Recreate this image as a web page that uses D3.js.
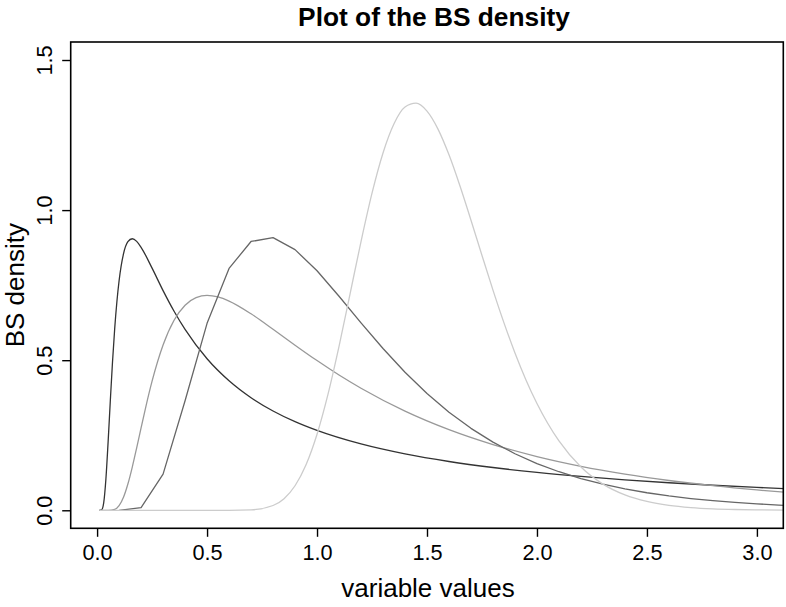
<!DOCTYPE html>
<html>
<head>
<meta charset="utf-8">
<script src="https://cdn.jsdelivr.net/npm/d3@7"></script>
<style>
  body { margin: 0; background: #fff; }
  svg { display: block; font-family: "Liberation Sans", Arial, Helvetica, sans-serif; }
  .tick text { fill: #000; }
</style>
</head>
<body>
<div id="chart"></div>
<script>
// x ticks / y ticks
const xTicks = [0, 0.5, 1.0, 1.5, 2.0, 2.5, 3.0];
const yTicks = [0, 0.5, 1.0, 1.5];

// curve 1 (darkest)
const xBlack = [0.01, 0.02, 0.03, 0.04, 0.05, 0.06, 0.07, 0.08, 0.09, 0.10, 0.12, 0.14, 0.16, 0.18, 0.20,
  0.25, 0.3, 0.35, 0.4, 0.5, 0.6, 0.7, 0.8, 0.9, 1.0, 1.2, 1.4, 1.6, 1.8, 2.0, 2.2, 2.4, 2.6, 2.8, 3.0, 3.2];
const yBlack = [0, 0.0011, 0.0248, 0.1033, 0.2262, 0.3635, 0.4934, 0.6048, 0.6947, 0.7646, 0.8540, 0.8947, 0.9046, 0.8958, 0.8762,
  0.8066, 0.7318, 0.6630, 0.6025, 0.5048, 0.4315, 0.3751, 0.3308, 0.2952, 0.2660, 0.2209, 0.1878, 0.1625, 0.1425, 0.1262, 0.1128, 0.1014, 0.0917, 0.0834, 0.0761, 0.0697];

// curve 2 (mid grey, smooth)
const xMid = [0.01, 0.05, 0.08, 0.10, 0.12, 0.14, 0.16, 0.18, 0.20, 0.22, 0.25, 0.3, 0.35, 0.4, 0.45, 0.5, 0.55, 0.6,
  0.7, 0.8, 0.9, 1.0, 1.1, 1.2, 1.4, 1.6, 1.8, 2.0, 2.2, 2.4, 2.6, 2.8, 3.0, 3.2];
const yMid = [0, 0, 0.0031, 0.0155, 0.0434, 0.0875, 0.1441, 0.2082, 0.2746, 0.3398, 0.4300, 0.5506, 0.6331, 0.6831, 0.7084, 0.7159, 0.7107, 0.6970,
  0.6546, 0.6032, 0.5501, 0.4987, 0.4506, 0.4066, 0.3304, 0.2687, 0.2190, 0.1790, 0.1466, 0.1205, 0.0992, 0.0819, 0.0677, 0.0561];

// curve 3 (dark grey, coarse grid -> drawn as polyline)
const xDark = [0.1, 0.2, 0.3, 0.4, 0.5, 0.6, 0.7, 0.8, 0.9, 1.0, 1.1, 1.2, 1.3, 1.4, 1.5, 1.6,
  1.7, 1.8, 1.9, 2.0, 2.1, 2.2, 2.3, 2.4, 2.5, 2.6, 2.7, 2.8, 2.9, 3.0, 3.1, 3.2];
const yDark = [0, 0.0089, 0.1203, 0.3649, 0.6227, 0.8057, 0.8955, 0.9081, 0.8683, 0.7979, 0.7131, 0.6246, 0.5390, 0.4599, 0.3890, 0.3268,
  0.2730, 0.2272, 0.1883, 0.1557, 0.1284, 0.1056, 0.0868, 0.0712, 0.0584, 0.0478, 0.0391, 0.0320, 0.0261, 0.0213, 0.0174, 0.0142];

// curve 4 (light grey, tall peak)
const xLight = [0.01, 0.2, 0.4, 0.6, 0.7, 0.8, 0.85, 0.9, 0.95, 1.0, 1.05, 1.1, 1.15, 1.2, 1.25, 1.3, 1.35, 1.4, 1.45, 1.5,
  1.55, 1.6, 1.65, 1.7, 1.75, 1.8, 1.85, 1.9, 1.95, 2.0, 2.1, 2.2, 2.3, 2.4, 2.5, 2.6, 2.7, 2.8, 2.9, 3.0, 3.2];
const yLight = [0, 0, 0, 0, 0.0015, 0.0159, 0.0388, 0.0817, 0.1517, 0.2535, 0.3869, 0.5461, 0.7202, 0.8953, 1.0564, 1.1904, 1.2877, 1.3433, 1.3562, 1.3298,
  1.2699, 1.1841, 1.0803, 0.9664, 0.8489, 0.7336, 0.6244, 0.5241, 0.4342, 0.3556, 0.2309, 0.1443, 0.0873, 0.0513, 0.0294, 0.0165, 0.0091, 0.0049, 0.0026, 0.0014, 0.0004];

const series = [
  {xs: xBlack, ys: yBlack, color: '#333333', smooth: true},
  {xs: xMid, ys: yMid, color: '#999999', smooth: true},
  {xs: xDark, ys: yDark, color: '#666666', smooth: false},
  {xs: xLight, ys: yLight, color: '#cccccc', smooth: true}
];

const W = 786, H = 607;
const box = {left: 70.7, right: 783.3, top: 42, bottom: 528.3};

const svg = d3.select('#chart').append('svg')
  .attr('width', W)
  .attr('height', H);

const x = d3.scaleLinear().domain([-0.12, 3.12]).range([box.left, box.right]);
const y = d3.scaleLinear().domain([-0.06, 1.56]).range([box.bottom, box.top]);

svg.append('clipPath').attr('id', 'plotclip')
  .append('rect')
  .attr('x', box.left).attr('y', box.top)
  .attr('width', box.right - box.left).attr('height', box.bottom - box.top);

// curves
const g = svg.append('g').attr('clip-path', 'url(#plotclip)');
series.forEach(s => {
  const pts = s.xs.map((v, i) => [v, s.ys[i]]);
  const line = d3.line()
    .x(d => x(d[0]))
    .y(d => y(d[1]))
    .curve(s.smooth ? d3.curveMonotoneX : d3.curveLinear);
  g.append('path')
    .datum(pts)
    .attr('d', line)
    .attr('fill', 'none')
    .attr('stroke', s.color)
    .attr('stroke-width', 1.3)
    .attr('stroke-linejoin', 'round');
});

// x axis
const xAxis = svg.append('g')
  .attr('transform', `translate(0,${box.bottom})`)
  .call(d3.axisBottom(x).tickValues(xTicks).tickFormat(d3.format('.1f')).tickSize(8.5).tickSizeOuter(0).tickPadding(8));
xAxis.select('.domain').remove();
xAxis.selectAll('.tick line').attr('stroke', '#000').attr('stroke-width', 1.4);
xAxis.selectAll('.tick text').attr('font-size', 21.7).attr('dy', '0.71em');

// y axis, labels parallel to the axis
const yAxis = svg.append('g')
  .attr('transform', `translate(${box.left},0)`)
  .call(d3.axisLeft(y).tickValues(yTicks).tickFormat(d3.format('.1f')).tickSize(8.5).tickSizeOuter(0));
yAxis.select('.domain').remove();
yAxis.selectAll('.tick line').attr('stroke', '#000').attr('stroke-width', 1.4);
yAxis.selectAll('.tick text')
  .attr('font-size', 21.7)
  .attr('x', null).attr('dy', null)
  .attr('text-anchor', 'middle')
  .attr('transform', 'translate(-19,0) rotate(-90)');

// frame
svg.append('rect')
  .attr('x', box.left).attr('y', box.top)
  .attr('width', box.right - box.left).attr('height', box.bottom - box.top)
  .attr('fill', 'none')
  .attr('stroke', '#000')
  .attr('stroke-width', 1.6);

// titles
svg.append('text')
  .attr('x', 434).attr('y', 26)
  .attr('text-anchor', 'middle')
  .attr('font-size', 26.3).attr('font-weight', 'bold')
  .text('Plot of the BS density');

svg.append('text')
  .attr('x', 428).attr('y', 597)
  .attr('text-anchor', 'middle')
  .attr('font-size', 26)
  .text('variable values');

svg.append('text')
  .attr('transform', `translate(23.5,${(box.top + box.bottom) / 2}) rotate(-90)`)
  .attr('text-anchor', 'middle')
  .attr('font-size', 26)
  .text('BS density');
</script>
</body>
</html>
